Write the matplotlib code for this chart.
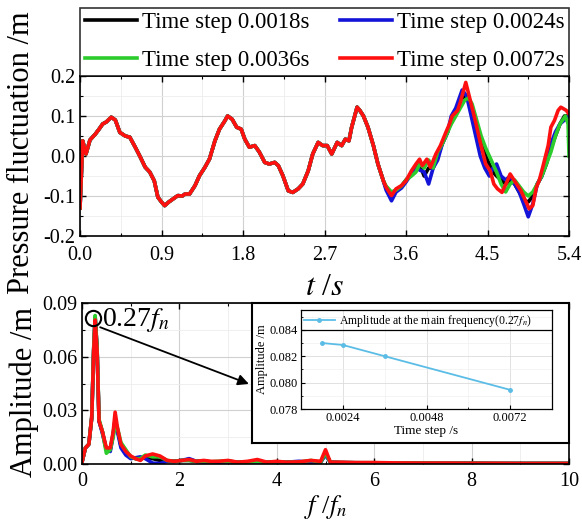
import matplotlib
matplotlib.use("Agg")
import matplotlib.pyplot as plt
from matplotlib.ticker import MultipleLocator, FormatStrFormatter

plt.rcParams['font.family'] = ['Liberation Serif', 'DejaVu Serif']
plt.rcParams['mathtext.fontset'] = 'stix'
plt.rcParams['axes.unicode_minus'] = False

# ---------------- data: pressure fluctuation (top) ----------------
labels = ["Time step 0.0018s", "Time step 0.0024s", "Time step 0.0036s", "Time step 0.0072s"]
colors = ["#000000", "#1414d8", "#2ccc2c", "#ff1010"]

# part where all four series coincide
t_early = [0.0, 0.03, 0.066, 0.11, 0.17, 0.21, 0.25, 0.29, 0.345, 0.39, 0.44, 0.5, 0.55, 0.61,
           0.66, 0.72, 0.77, 0.82, 0.86, 0.90, 0.935, 0.98, 1.03, 1.08, 1.13, 1.16, 1.21, 1.27,
           1.32, 1.38, 1.43, 1.49, 1.54, 1.60, 1.63, 1.68, 1.73, 1.78, 1.82, 1.87, 1.93, 1.98,
           2.04, 2.09, 2.15, 2.19, 2.24, 2.30, 2.35, 2.41, 2.46, 2.52, 2.57, 2.63, 2.68, 2.73,
           2.78, 2.84, 2.89, 2.93, 2.97, 3.00, 3.06, 3.09, 3.13, 3.18, 3.24, 3.29, 3.35]
p_early = [-0.13, 0.038, 0.005, 0.04, 0.055, 0.067, 0.08, 0.085, 0.097, 0.09, 0.059, 0.05, 0.047,
           0.022, 0.0, -0.028, -0.04, -0.062, -0.103, -0.115, -0.124, -0.115, -0.107, -0.099,
           -0.10, -0.095, -0.095, -0.074, -0.049, -0.028, -0.0075, 0.038, 0.067, 0.088, 0.1,
           0.092, 0.072, 0.067, 0.042, 0.022, 0.026, 0.01, -0.016, -0.02, -0.016, -0.024, -0.049,
           -0.087, -0.091, -0.082, -0.07, -0.037, 0.005, 0.034, 0.026, 0.026, 0.005, 0.034, 0.026,
           0.042, 0.038, 0.072, 0.122, 0.114, 0.1, 0.072, 0.026, -0.02, -0.062]

t_late_red = [3.38, 3.44, 3.49, 3.55, 3.60, 3.66, 3.71, 3.75, 3.78, 3.83, 3.87, 3.93, 3.98, 4.04,
              4.08, 4.11, 4.17, 4.20, 4.26, 4.31, 4.37, 4.42, 4.48, 4.53, 4.57, 4.61, 4.66, 4.72,
              4.75, 4.81, 4.87, 4.92, 4.96, 5.00, 5.04, 5.07, 5.11, 5.17, 5.20, 5.24, 5.28, 5.31,
              5.37, 5.40]
p_late_red = [-0.078, -0.099, -0.082, -0.074, -0.062, -0.037, -0.02, -0.008, -0.024, -0.008,
              -0.028, 0.005, 0.026, 0.059, 0.08, 0.1, 0.114, 0.134, 0.184, 0.139, 0.084, 0.034,
              -0.02, -0.037, -0.07, -0.082, -0.091, -0.062, -0.045, -0.066, -0.087, -0.112,
              -0.132, -0.124, -0.078, -0.062, -0.028, 0.026, 0.072, 0.089, 0.114, 0.122, 0.114,
              0.105]

t_late_blue = [3.38, 3.44, 3.49, 3.55, 3.60, 3.66, 3.71, 3.75, 3.80, 3.85, 3.90, 3.95, 4.00, 4.06,
               4.10, 4.15, 4.22, 4.27, 4.31, 4.36, 4.42, 4.47, 4.52, 4.56, 4.60, 4.65, 4.70, 4.75,
               4.80, 4.85, 4.90, 4.95, 5.00, 5.05, 5.10, 5.15, 5.20, 5.25, 5.30, 5.35, 5.40]
p_late_blue = [-0.085, -0.112, -0.09, -0.08, -0.065, -0.045, -0.03, -0.035, -0.04, -0.07, -0.03,
               -0.01, 0.03, 0.06, 0.1, 0.12, 0.165, 0.15, 0.11, 0.06, 0.0, -0.03, -0.05, -0.03,
               -0.02, -0.05, -0.06, -0.05, -0.07, -0.09, -0.12, -0.152, -0.12, -0.07, -0.05, 0.0,
               0.03, 0.06, 0.08, 0.09, 0.1]

t_late_green = [3.38, 3.44, 3.49, 3.55, 3.60, 3.66, 3.71, 3.75, 3.80, 3.85, 3.90, 3.95, 4.00, 4.06,
                4.10, 4.15, 4.20, 4.25, 4.29, 4.33, 4.38, 4.43, 4.48, 4.52, 4.56, 4.60, 4.65, 4.70,
                4.75, 4.80, 4.85, 4.90, 4.95, 5.00, 5.05, 5.10, 5.15, 5.20, 5.25, 5.30, 5.36, 5.39,
                5.40]
p_late_green = [-0.075, -0.09, -0.085, -0.075, -0.06, -0.05, -0.04, -0.02, -0.03, -0.01, -0.03,
                0.01, 0.03, 0.06, 0.08, 0.1, 0.12, 0.14, 0.145, 0.13, 0.09, 0.05, 0.02, 0.0,
                -0.02, -0.04, -0.07, -0.09, -0.07, -0.06, -0.075, -0.09, -0.1, -0.09, -0.07, -0.05,
                -0.02, 0.01, 0.05, 0.08, 0.1, 0.08, 0.0]

t_late_black = [3.38, 3.44, 3.49, 3.55, 3.60, 3.66, 3.71, 3.75, 3.80, 3.85, 3.90, 3.95, 4.00, 4.06,
                4.10, 4.15, 4.20, 4.25, 4.29, 4.33, 4.38, 4.43, 4.48, 4.52, 4.56, 4.60, 4.65, 4.70,
                4.75, 4.80, 4.85, 4.90, 4.95, 5.00, 5.05, 5.10, 5.15, 5.20, 5.25, 5.30, 5.35, 5.40]
p_late_black = [-0.08, -0.1, -0.085, -0.075, -0.06, -0.045, -0.03, -0.02, -0.05, -0.03, -0.03,
                0.0, 0.03, 0.06, 0.09, 0.11, 0.14, 0.15, 0.14, 0.11, 0.07, 0.03, 0.0, -0.02, -0.04,
                -0.05, -0.06, -0.07, -0.06, -0.07, -0.09, -0.11, -0.115, -0.1, -0.07, -0.05, -0.02,
                0.02, 0.05, 0.08, 0.1, 0.1]

t_xticks = [0.0, 0.9, 1.8, 2.7, 3.6, 4.5, 5.4]
p_yticks = [-0.2, -0.1, 0.0, 0.1, 0.2]

# ---------------- data: amplitude spectrum (bottom) ----------------
freq = [0, 0.07, 0.14, 0.2, 0.24, 0.27, 0.31, 0.35, 0.42, 0.5, 0.58, 0.64, 0.68, 0.73, 0.8, 0.9,
        1.0, 1.1, 1.2, 1.3, 1.45, 1.6, 1.75, 1.9, 2.05, 2.2, 2.35, 2.5, 2.65, 2.8, 3.0, 3.2, 3.4,
        3.6, 3.8, 4.0, 4.2, 4.45, 4.7, 4.9, 5.0, 5.1, 5.3, 5.6, 6.0, 6.5, 7.0, 7.5, 8.0, 8.5, 9.0,
        9.5, 10.0]
amp_black = [0.001, 0.009, 0.011, 0.026, 0.064, 0.082, 0.064, 0.024, 0.018, 0.008, 0.008, 0.017,
             0.025, 0.019, 0.01, 0.006, 0.004, 0.003, 0.003, 0.004, 0.003, 0.002, 0.0015, 0.0015,
             0.002, 0.002, 0.0015, 0.0015, 0.0012, 0.0012, 0.0015, 0.001, 0.001, 0.0015, 0.001,
             0.001, 0.001, 0.001, 0.0012, 0.001, 0.006, 0.001, 0.0008, 0.0007, 0.0007, 0.0005,
             0.0005, 0.0004, 0.0004, 0.0003, 0.0003, 0.0003, 0.0003]
amp_blue = [0.001, 0.009, 0.011, 0.026, 0.064, 0.082, 0.064, 0.024, 0.017, 0.008, 0.007, 0.016,
            0.024, 0.018, 0.009, 0.005, 0.003, 0.0035, 0.004, 0.003, 0.0005, 0.0003, 0.0015,
            0.0015, 0.002, 0.003, 0.0015, 0.001, 0.0012, 0.001, 0.0012, 0.001, 0.001, 0.0012,
            0.001, 0.001, 0.001, 0.0015, 0.001, 0.001, 0.005, 0.001, 0.0008, 0.0007, 0.0006,
            0.0005, 0.0005, 0.0004, 0.0004, 0.0003, 0.0003, 0.0003, 0.0003]
amp_green = [0.001, 0.009, 0.011, 0.026, 0.065, 0.083, 0.065, 0.025, 0.018, 0.006, 0.008, 0.015,
             0.022, 0.02, 0.012, 0.008, 0.004, 0.003, 0.003, 0.005, 0.004, 0.004, 0.002, 0.0015,
             0.002, 0.002, 0.0015, 0.0015, 0.0012, 0.0015, 0.0015, 0.001, 0.001, 0.0015, 0.001,
             0.0012, 0.001, 0.001, 0.002, 0.001, 0.006, 0.001, 0.0008, 0.0007, 0.0007, 0.0005,
             0.0005, 0.0004, 0.0004, 0.0003, 0.0003, 0.0003, 0.0003]
amp_red = [0.001, 0.009, 0.011, 0.026, 0.063, 0.0805, 0.063, 0.024, 0.018, 0.009, 0.009, 0.018,
           0.029, 0.02, 0.011, 0.007, 0.0045, 0.003, 0.002, 0.0045, 0.0056, 0.0045, 0.002, 0.0015,
           0.002, 0.0025, 0.0015, 0.002, 0.0015, 0.0015, 0.002, 0.001, 0.0015, 0.0025, 0.001,
           0.0015, 0.001, 0.0012, 0.002, 0.0015, 0.008, 0.001, 0.001, 0.0008, 0.0008, 0.0006,
           0.0005, 0.0005, 0.0004, 0.0004, 0.0003, 0.0003, 0.0003]
f_xticks = [0, 2, 4, 6, 8, 10]
a_yticks = [0.00, 0.03, 0.06, 0.09]
main_freq = 0.27
main_amp = 0.0815

# ---------------- data: inset ----------------
time_steps = [0.0018, 0.0024, 0.0036, 0.0072]
main_freq_amp = [0.0830, 0.08285, 0.0820, 0.07945]
inset_xticks = [0.0024, 0.0048, 0.0072]
inset_yticks = [0.078, 0.080, 0.082, 0.084]

# ---------------- figure ----------------
W, H = 582, 524
fig = plt.figure(figsize=(W / 100, H / 100), dpi=100)

def rect(x0, y0, x1, y1):
    return [x0 / W, 1 - y1 / H, (x1 - x0) / W, (y1 - y0) / H]

def style_axes(ax, fs=14.5):
    ax.tick_params(which='both', direction='in', top=True, right=True, labelsize=fs)
    ax.tick_params(which='major', length=4, width=1)
    ax.tick_params(which='minor', length=2.5, width=0.8)
    ax.grid(True, which='major', color='#d0d0d0', lw=0.8)
    ax.grid(True, which='minor', color='#ececec', lw=0.6)
    ax.set_axisbelow(True)
    for s in ax.spines.values():
        s.set_linewidth(1.2)

# top axes
ax1 = fig.add_axes(rect(80, 76, 569, 236))
series_t = [t_early + t_late_black, t_early + t_late_blue, t_early + t_late_green, t_early + t_late_red]
series_p = [p_early + p_late_black, p_early + p_late_blue, p_early + p_late_green, p_early + p_late_red]
handles = []
for tt, pp, c, lab in zip(series_t, series_p, colors, labels):
    h, = ax1.plot(tt, pp, color=c, lw=2.6, label=lab, solid_joinstyle='round')
    handles.append(h)
ax1.set_xlim(0, 5.4)
ax1.set_ylim(-0.2, 0.2)
ax1.set_xticks(t_xticks)
ax1.set_yticks(p_yticks)
ax1.xaxis.set_major_formatter(FormatStrFormatter('%.1f'))
ax1.yaxis.set_major_formatter(FormatStrFormatter('%.1f'))
ax1.xaxis.set_minor_locator(MultipleLocator(0.45))
ax1.yaxis.set_minor_locator(MultipleLocator(0.05))
style_axes(ax1)
ax1.tick_params(axis='x', pad=7)
ax1.set_xlabel('$t$ /$s$', fontsize=23, labelpad=6)
order = [0, 2, 1, 3]
leg = ax1.legend([handles[i] for i in order], [labels[i] for i in order],
                 loc='lower left', bbox_to_anchor=(0, 1.0, 1, 67 / 160), mode='expand', ncol=2,
                 fontsize=16.5, frameon=True, fancybox=False, edgecolor='black',
                 handlelength=2.3, handletextpad=0.2, columnspacing=0.5, labelspacing=0.75,
                 borderpad=0.2, borderaxespad=0)
leg.get_frame().set_linewidth(1.2)
for ln in leg.get_lines():
    ln.set_linewidth(2.6)
fig.text(22 / W, 1 - 153 / H, 'Pressure fluctuation /m', rotation=90, ha='center', va='center',
         fontsize=22)

# bottom axes
ax2 = fig.add_axes(rect(82, 303, 569, 464))
for aa, c in zip([amp_black, amp_blue, amp_green, amp_red], colors):
    ax2.plot(freq, aa, color=c, lw=2.6, solid_joinstyle='round')
ax2.set_xlim(0, 10)
ax2.set_ylim(0, 0.09)
ax2.set_xticks(f_xticks)
ax2.set_yticks(a_yticks)
ax2.yaxis.set_major_formatter(FormatStrFormatter('%.2f'))
ax2.xaxis.set_minor_locator(MultipleLocator(1))
ax2.yaxis.set_minor_locator(MultipleLocator(0.015))
style_axes(ax2)
ax2.tick_params(axis='x', pad=6)
ax2.set_xlabel('$f$ /$f_n$', fontsize=19, labelpad=1)
fig.text(24 / W, 1 - 392 / H, 'Amplitude /m', rotation=90, ha='center', va='center', fontsize=22)

ax2.plot([main_freq - 0.04], [main_amp], marker='o', ms=11, mfc='none', mec='black', mew=1.5,
         zorder=5, clip_on=False)
ax2.text(main_freq + 0.14, main_amp - 0.001, '0.27$f_n$', fontsize=20, ha='left', va='center')
ax2.annotate('', xy=(3.48, 0.0442), xytext=(main_freq + 0.05, main_amp - 0.0045),
             arrowprops=dict(arrowstyle='-|>', color='black', lw=1.3, mutation_scale=16),
             annotation_clip=False, zorder=6)

# inset outer box
axb = fig.add_axes(rect(252, 303, 569, 443))
axb.set_xticks([])
axb.set_yticks([])
axb.set_facecolor('white')
for s in axb.spines.values():
    s.set_linewidth(1.5)

# inset inner axes
axi = fig.add_axes(rect(301, 310, 552, 409))
axi.plot(time_steps, main_freq_amp, color='#5bbde6', lw=1.3, marker='o', ms=2.5,
         label='Amplitude at the main frequency(0.27$f_n$)')
axi.set_xlim(0.0012, 0.0084)
axi.set_ylim(0.078, 0.0855)
axi.set_xticks(inset_xticks)
axi.set_yticks(inset_yticks)
axi.yaxis.set_major_formatter(FormatStrFormatter('%.3f'))
axi.xaxis.set_minor_locator(MultipleLocator(0.0012))
axi.yaxis.set_minor_locator(MultipleLocator(0.001))
axi.tick_params(which='both', direction='in', labelsize=9, pad=2)
axi.tick_params(which='major', length=3)
axi.tick_params(which='minor', length=1.5)
axi.grid(True, which='major', color='#dcdcdc', lw=0.6)
axi.grid(True, which='minor', color='#f0f0f0', lw=0.5)
axi.set_axisbelow(True)
axi.axhline(0.084, color='black', lw=0.9)
axi.set_xlabel('Time step /s', fontsize=9.5, labelpad=1)
axi.set_ylabel('Amplitude /m', fontsize=9, labelpad=1)
axi.legend(loc='upper left', frameon=False, fontsize=8.5, handlelength=2.6, handletextpad=0.4,
           borderaxespad=0.05, borderpad=0.2)
for s in axi.spines.values():
    s.set_linewidth(0.9)

fig.savefig('out.png', dpi=100)
